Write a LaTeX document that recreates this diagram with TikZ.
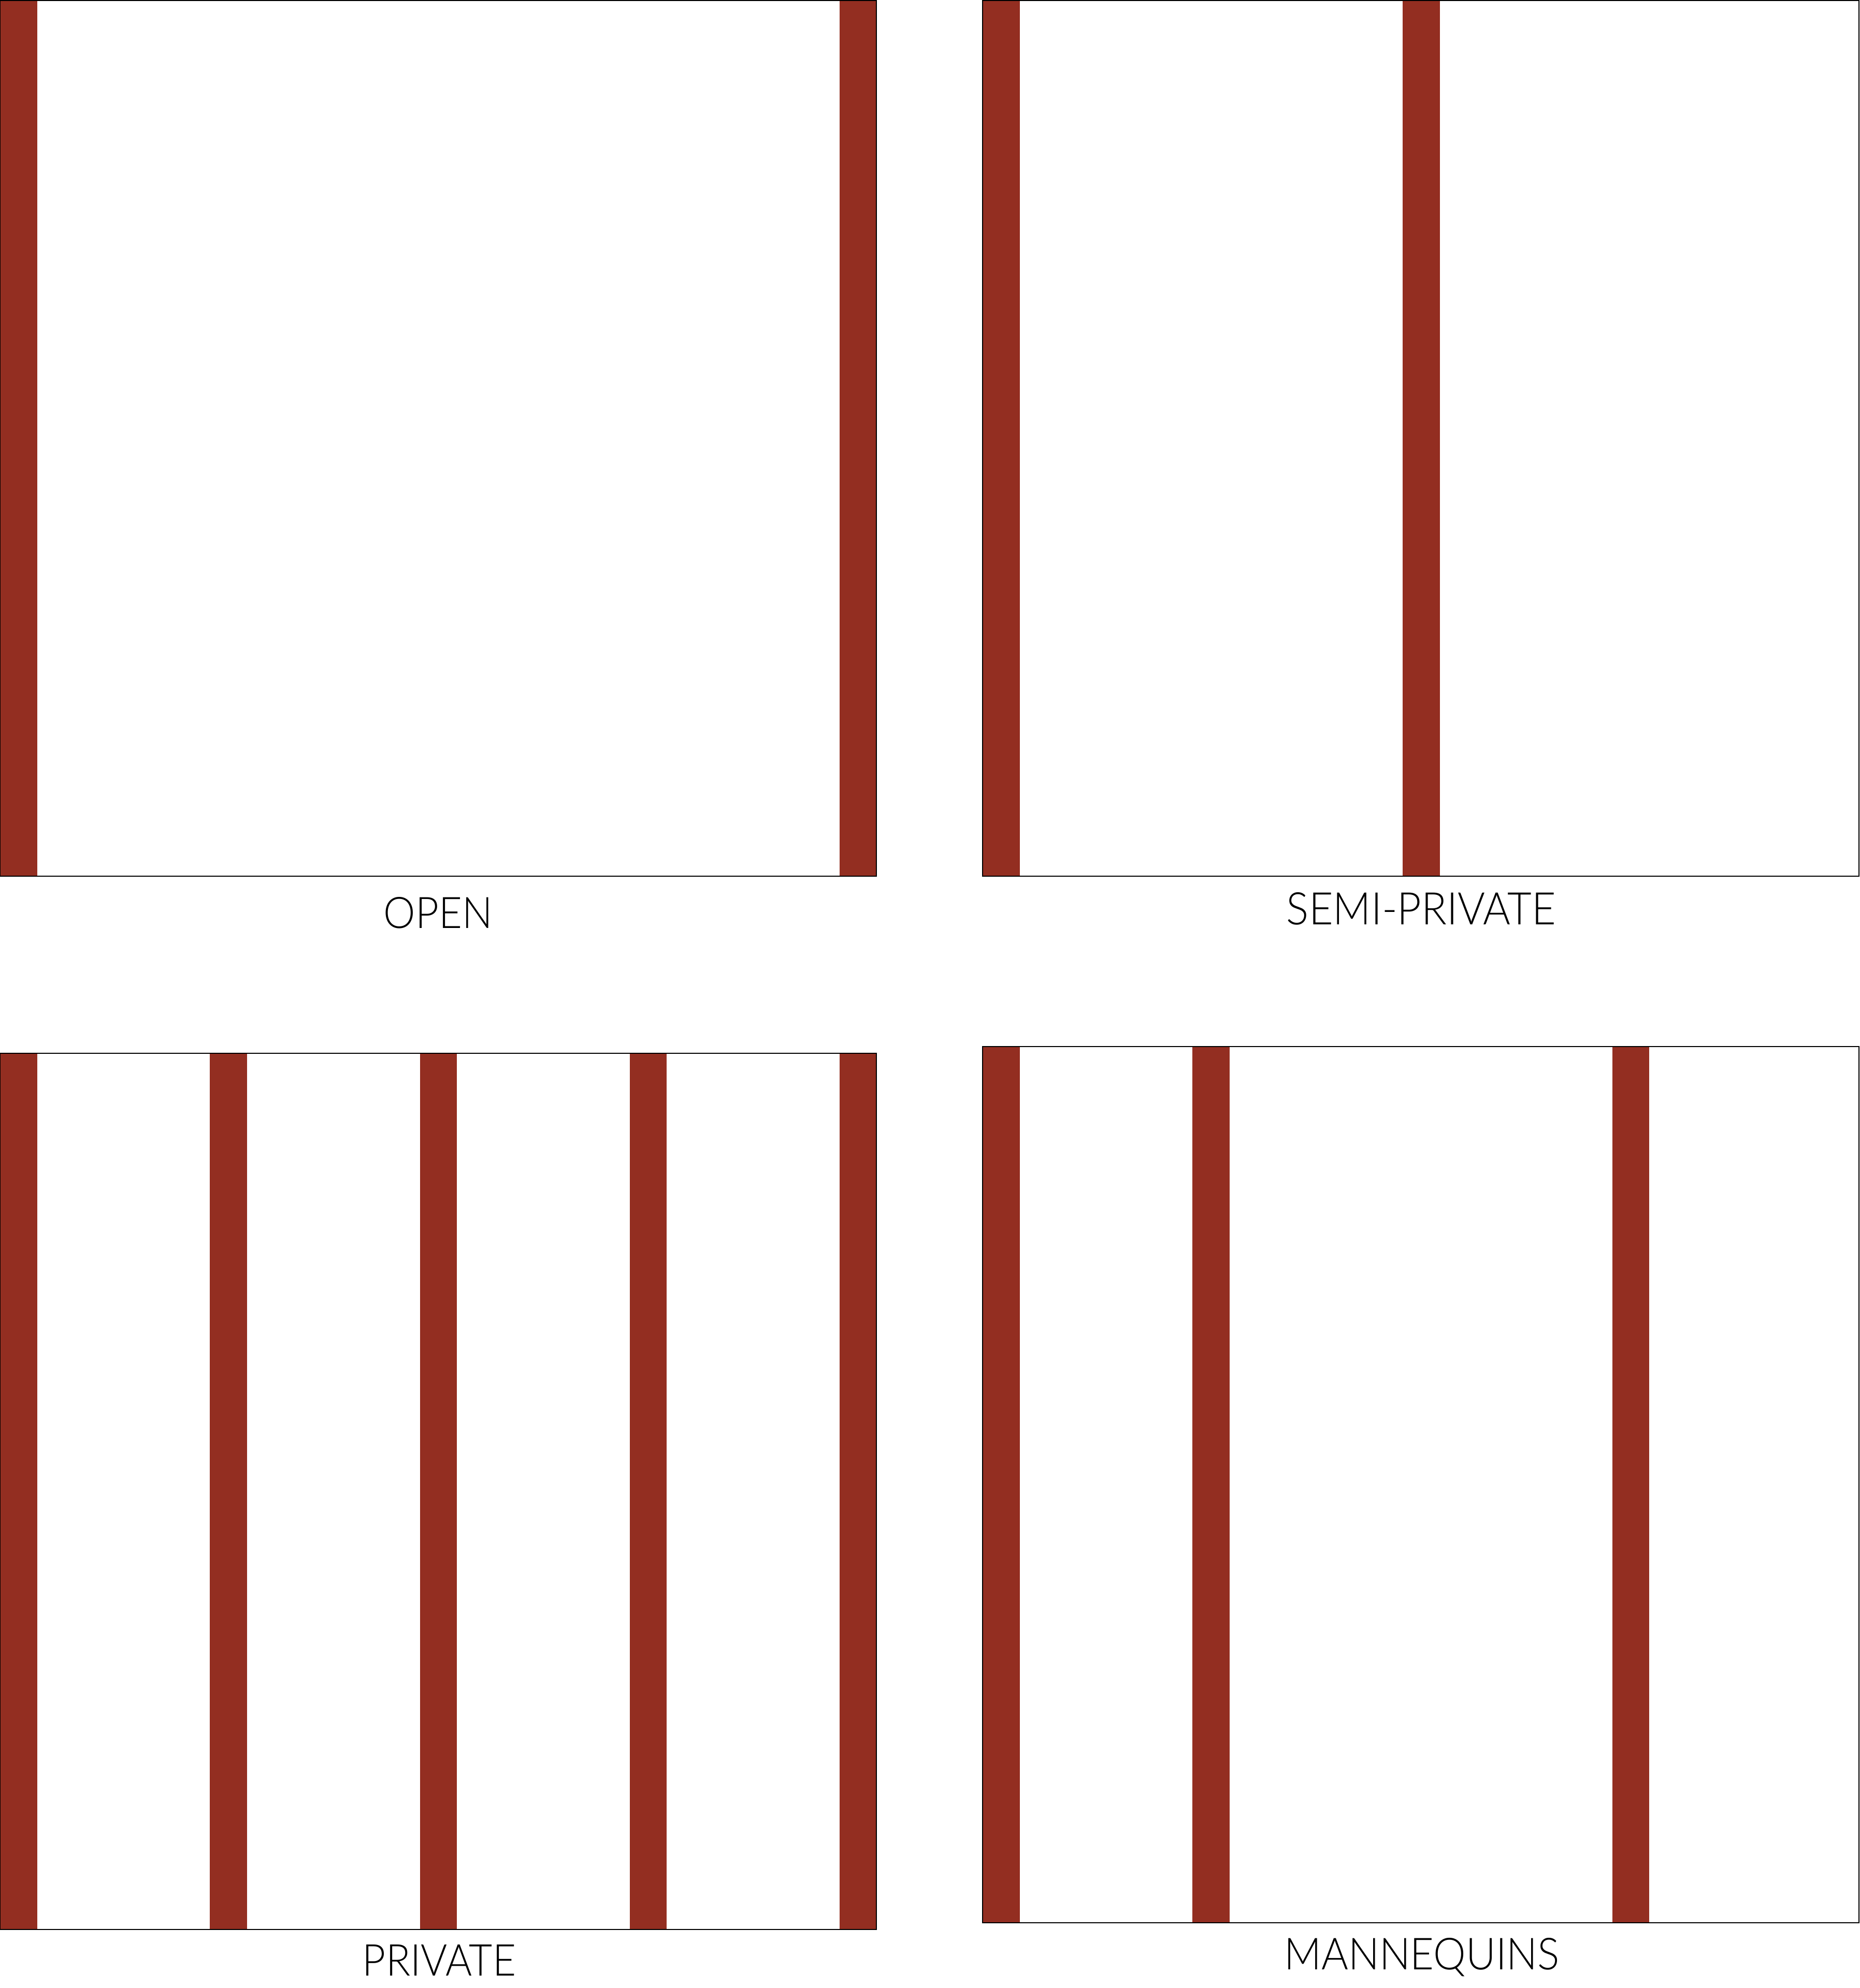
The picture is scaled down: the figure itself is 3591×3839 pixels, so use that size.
\documentclass[tikz,border=0pt]{standalone}
\usepackage{fontspec}
\setmainfont{Lato}[UprightFont=* Light]
\usepackage{graphicx}
\definecolor{wallred}{RGB}{147,46,33}
\tikzset{
  panel/.style={draw=black, line width=0.02cm},
  wall/.style={fill=wallred, draw=none},
  caption/.style={anchor=base, inner sep=0pt, text=black}
}
\begin{document}
\begin{tikzpicture}[x=0.01cm,y=-0.01cm]
\useasboundingbox (0,0) rectangle (3591,3839);
\fill[white] (0,0) rectangle (3591,3839);
% OPEN
\foreach \x in {0,1621} \fill[wall] (\x,1) rectangle ++(71.5,1691);
\draw[panel] (0,1) rectangle (1692,1692);
\node[caption] (lopen) at (846,1792) {\resizebox{2.10cm}{0.60cm}{OPEN}};
% SEMI-PRIVATE
\foreach \x in {1897,2708} \fill[wall] (\x,1) rectangle ++(71.5,1691);
\draw[panel] (1897,1) rectangle (3589,1692);
\node[caption] (lsemi) at (2744,1785) {\resizebox{5.20cm}{0.62cm}{SEMI-PRIVATE}};
% PRIVATE
\foreach \x in {0,405.25,810.5,1215.75,1621} \fill[wall] (\x,2034) rectangle ++(71.5,1692);
\draw[panel] (0,2034) rectangle (1692,3726);
\node[caption] (lpriv) at (848,3815) {\resizebox{2.96cm}{0.60cm}{PRIVATE}};
% MANNEQUINS
\foreach \x in {1897,2302.25,3112.75} \fill[wall] (\x,2021) rectangle ++(71.5,1692);
\draw[panel] (1897,2021) rectangle (3589,3713);
\node[caption] (lmann) at (2745,3803) {\resizebox{5.31cm}{0.61cm}{MANNEQUINS}};
\end{tikzpicture}
\end{document}
